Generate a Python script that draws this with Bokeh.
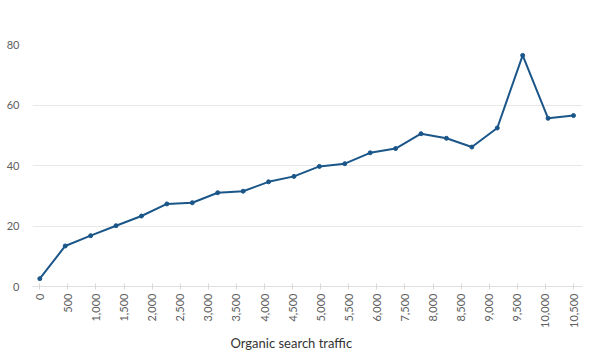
from bokeh.plotting import figure
from bokeh.models import Range1d, FixedTicker, Title
from bokeh.embed import file_html
from bokeh.resources import INLINE

# data
traffic = [0, 500, 1000, 1500, 2000, 2500, 3000, 3500, 4000, 4500, 5000,
           5500, 6000, 6500, 7000, 7500, 8000, 8500, 9000, 9500, 10000, 10500]
values = [2.6, 13.4, 16.8, 20.1, 23.3, 27.3, 27.7, 31.0, 31.5, 34.6, 36.4,
          39.7, 40.6, 44.2, 45.6, 50.5, 49.0, 46.1, 52.4, 76.4, 55.6, 56.5]
tick_labels = ["0", "500", "1,000", "1,500", "2,000", "2,500", "3,000", "3,500",
               "4,000", "4,500", "5,000", "5,500", "6,000", "7,500", "8,000",
               "8,500", "9,000", "9,500", "10,000", "10,500"]
y_ticks = [0, 20, 40, 60, 80]
x_title = "Organic search traffic"

FONT = "Lato"
COLOR = "#1b5689"

p = figure(width=609, height=356, output_backend="svg", toolbar_location=None,
           x_range=Range1d(-144, 10677), y_range=Range1d(0, 80),
           min_border_left=32, min_border_right=27, min_border_top=44,
           min_border_bottom=70)
p.outline_line_color = None
p.background_fill_color = "white"
p.border_fill_color = "white"

p.line(traffic, values, line_color=COLOR, line_width=2)
p.scatter(traffic, values, size=4, color=COLOR)

# x axis: evenly spaced labelled ticks across the data span
n = len(tick_labels)
span = traffic[-1] - traffic[0]
tick_pos = [traffic[0] + i * span / (n - 1) for i in range(n)]
p.xaxis.ticker = FixedTicker(ticks=tick_pos)
p.xaxis.major_label_overrides = {t: lab for t, lab in zip(tick_pos, tick_labels)}
p.xaxis.major_label_orientation = 3.14159265 / 2
p.xaxis.axis_line_color = "#e0e0e0"
p.xaxis.major_tick_line_color = "#d8d8d8"
p.xaxis.major_tick_in = 3
p.xaxis.major_tick_out = 3
p.xaxis.minor_tick_line_color = None
p.xaxis.major_label_text_font = FONT
p.xaxis.major_label_text_font_size = "11px"
p.xaxis.major_label_text_color = "#606060"
p.xaxis.major_label_standoff = 4

p.yaxis.ticker = FixedTicker(ticks=y_ticks)
p.yaxis.axis_line_color = None
p.yaxis.major_tick_line_color = None
p.yaxis.minor_tick_line_color = None
p.yaxis.major_label_text_font = FONT
p.yaxis.major_label_text_font_size = "11px"
p.yaxis.major_label_text_color = "#606060"
p.yaxis.major_label_standoff = 7

p.xgrid.grid_line_color = None
p.ygrid.grid_line_color = "#e8e8e8"
p.ygrid.ticker = FixedTicker(ticks=y_ticks)

xt = Title(text=x_title, align="left", offset=198, text_font=FONT,
           text_font_size="13px", text_font_style="normal",
           text_color="#333333", standoff=5)
p.add_layout(xt, "below")

open("out.html", "w").write(file_html(p, INLINE))
